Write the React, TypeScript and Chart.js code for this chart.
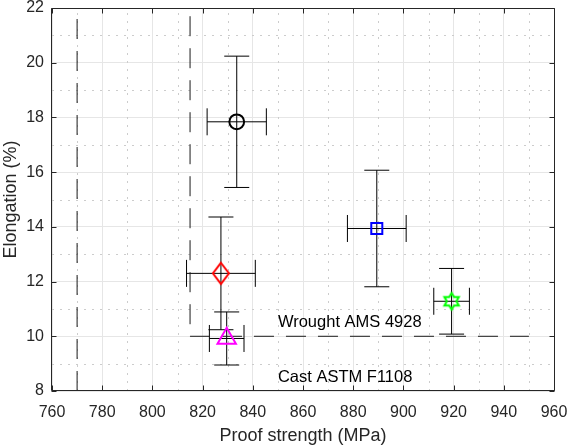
import React, { useEffect, useRef } from 'react';
import { Chart, registerables } from 'chart.js';

Chart.register(...registerables);

// ---------------- data ----------------
const proofStrength = [833.6, 827.3, 829.6, 889.4, 919.2];
const elongation = [17.84, 12.3, 9.92, 13.94, 11.28];
const proofStrengthErr = [11.8, 13.7, 6.9, 11.7, 7.1];
const elongationErr = [2.4, 2.06, 0.97, 2.13, 1.2];
const markerShapes = ['circle', 'diamond', 'triangle', 'square', 'hexagram'];
const markerColors = ['#000000', '#ff0000', '#ff00ff', '#0000ff', '#00ff00'];

const castLimitX = [770, 770];
const castLimitY = [8, 22];
const wroughtLimitX = [815, 815, 950];
const wroughtLimitY = [21.7, 10, 10];

const annotationTexts = ['Wrought AMS 4928', 'Cast ASTM F1108'];
const annotationX = [850, 850];
const annotationY = [10.5, 8.5];

const xMin = 760;
const xMax = 960;
const xStep = 20;
const yMin = 8;
const yMax = 22;
const yStep = 2;
const xMinorTicks = [770, 790, 810, 830, 850, 870, 890, 910, 930, 950];
const yMinorTicks = [9, 11, 13, 15, 17, 19, 21];
const xMajorTicks = [760, 780, 800, 820, 840, 860, 880, 900, 920, 940, 960];
const yMajorTicks = [8, 10, 12, 14, 16, 18, 20, 22];

const xTitle = 'Proof strength (MPa)';
const yTitle = 'Elongation (%)';

const FONT = '"Liberation Sans", Arial, Helvetica, sans-serif';
const AXIS_COLOR = '#262626';

function makeMarker(shape: string, color: string): any {
  if (shape === 'circle') return 'circle';
  if (shape === 'square') return 'rect';
  if (shape === 'triangle') return 'triangle';
  const c = document.createElement('canvas');
  const ctx = c.getContext('2d') as CanvasRenderingContext2D;
  if (shape === 'diamond') {
    c.width = 24;
    c.height = 28;
    const cx = 12, cy = 14;
    ctx.strokeStyle = color;
    ctx.lineWidth = 2;
    ctx.beginPath();
    ctx.moveTo(cx, cy - 10.5);
    ctx.lineTo(cx + 8, cy);
    ctx.lineTo(cx, cy + 10.5);
    ctx.lineTo(cx - 8, cy);
    ctx.closePath();
    ctx.stroke();
  } else {
    c.width = 22;
    c.height = 22;
    const cx = 11, cy = 11;
    const R = 8.3;
    const r = R / Math.sqrt(3);
    ctx.strokeStyle = color;
    ctx.lineWidth = 2;
    ctx.beginPath();
    for (let k = 0; k < 12; k++) {
      const ang = -Math.PI / 2 + (k * Math.PI) / 6;
      const rad = k % 2 === 0 ? R : r;
      const px = cx + rad * Math.cos(ang);
      const py = cy + rad * Math.sin(ang);
      if (k === 0) ctx.moveTo(px, py);
      else ctx.lineTo(px, py);
    }
    ctx.closePath();
    ctx.stroke();
  }
  return c;
}

const markerRadius: Record<string, number> = {
  circle: 7.4,
  square: 7.8,
  triangle: 10.6,
  diamond: 10,
  hexagram: 9,
};

const axesPlugin = {
  id: 'matlabAxes',
  beforeDatasetsDraw(chart: any) {
    const { ctx, chartArea: a, scales } = chart;
    const xs = scales.x;
    const ys = scales.y;
    ctx.save();
    ctx.beginPath();
    ctx.rect(a.left, a.top, a.right - a.left, a.bottom - a.top);
    ctx.clip();
    // minor dotted grid
    ctx.strokeStyle = '#cccccc';
    ctx.lineWidth = 1;
    ctx.setLineDash([2, 6]);
    for (const v of xMinorTicks) {
      const px = Math.round(xs.getPixelForValue(v)) + 0.5;
      ctx.beginPath();
      ctx.moveTo(px, a.bottom);
      ctx.lineTo(px, a.top);
      ctx.stroke();
    }
    for (const v of yMinorTicks) {
      const py = Math.round(ys.getPixelForValue(v)) + 0.5;
      ctx.beginPath();
      ctx.moveTo(a.left, py);
      ctx.lineTo(a.right, py);
      ctx.stroke();
    }
    ctx.setLineDash([]);
    // error bars
    ctx.strokeStyle = '#000000';
    ctx.lineWidth = 1;
    const capX = 13.5;
    const capY = 12.5;
    for (let i = 0; i < proofStrength.length; i++) {
      const cx = xs.getPixelForValue(proofStrength[i]);
      const cy = ys.getPixelForValue(elongation[i]);
      const x0 = xs.getPixelForValue(proofStrength[i] - proofStrengthErr[i]);
      const x1 = xs.getPixelForValue(proofStrength[i] + proofStrengthErr[i]);
      const y0 = ys.getPixelForValue(elongation[i] - elongationErr[i]);
      const y1 = ys.getPixelForValue(elongation[i] + elongationErr[i]);
      ctx.beginPath();
      ctx.moveTo(x0, cy);
      ctx.lineTo(x1, cy);
      ctx.moveTo(x0, cy - capX);
      ctx.lineTo(x0, cy + capX);
      ctx.moveTo(x1, cy - capX);
      ctx.lineTo(x1, cy + capX);
      ctx.moveTo(cx, y0);
      ctx.lineTo(cx, y1);
      ctx.moveTo(cx - capY, y0);
      ctx.lineTo(cx + capY, y0);
      ctx.moveTo(cx - capY, y1);
      ctx.lineTo(cx + capY, y1);
      ctx.stroke();
    }
    ctx.restore();
  },
  afterDatasetsDraw(chart: any) {
    const { ctx, scales } = chart;
    ctx.save();
    ctx.fillStyle = '#000000';
    ctx.font = `16.5px ${FONT}`;
    ctx.textAlign = 'left';
    ctx.textBaseline = 'middle';
    for (let i = 0; i < annotationTexts.length; i++) {
      ctx.fillText(
        annotationTexts[i],
        scales.x.getPixelForValue(annotationX[i]),
        scales.y.getPixelForValue(annotationY[i])
      );
    }
    ctx.restore();
  },
  afterDraw(chart: any) {
    const { ctx, chartArea: a, scales } = chart;
    const L = Math.round(a.left) - 0.5;
    const R = Math.round(a.right) + 0.5;
    const T = Math.round(a.top) + 0.5;
    const B = Math.round(a.bottom) - 0.5;
    ctx.save();
    ctx.strokeStyle = AXIS_COLOR;
    ctx.lineWidth = 1;
    ctx.beginPath();
    ctx.rect(L, T, R - L, B - T);
    ctx.stroke();
    const tl = 5;
    ctx.beginPath();
    for (const v of xMajorTicks) {
      const px = Math.round(scales.x.getPixelForValue(v)) + 0.5;
      ctx.moveTo(px, B);
      ctx.lineTo(px, B - tl);
      ctx.moveTo(px, T);
      ctx.lineTo(px, T + tl);
    }
    for (const v of yMajorTicks) {
      const py = Math.round(scales.y.getPixelForValue(v)) + 0.5;
      ctx.moveTo(L, py);
      ctx.lineTo(L + tl, py);
      ctx.moveTo(R, py);
      ctx.lineTo(R - tl, py);
    }
    ctx.stroke();
    ctx.restore();
  },
};

function noOverflow(s: any) {
  s.paddingTop = 0;
  s.paddingBottom = 0;
  s.paddingLeft = 0;
  s.paddingRight = 0;
}

export default function App() {
  const ref = useRef<HTMLCanvasElement | null>(null);

  useEffect(() => {
    if (!ref.current) return;
    const points = proofStrength.map((v, i) => ({ x: v, y: elongation[i] }));
    const styles = markerShapes.map((s, i) => makeMarker(s, markerColors[i]));
    const radii = markerShapes.map((s) => markerRadius[s]);
    const widths = markerShapes.map(() => 2);

    const chart = new Chart(ref.current, {
      type: 'scatter',
      data: {
        datasets: [
          {
            label: 'Specimens',
            data: points,
            pointStyle: styles as any,
            pointRadius: radii,
            pointHoverRadius: radii,
            pointBorderColor: markerColors,
            pointBackgroundColor: 'rgba(0,0,0,0)',
            pointBorderWidth: widths,
            showLine: false,
          } as any,
          {
            label: 'Wrought AMS 4928',
            data: wroughtLimitX.map((v, i) => ({ x: v, y: wroughtLimitY[i] })),
            showLine: true,
            borderColor: '#1a1a1a',
            borderWidth: 1,
            borderDash: [20, 12],
            pointRadius: 0,
            fill: false,
          } as any,
          {
            label: 'Cast ASTM F1108',
            data: castLimitX.map((v, i) => ({ x: v, y: castLimitY[i] })),
            showLine: true,
            borderColor: '#1a1a1a',
            borderWidth: 1,
            borderDash: [20, 12],
            pointRadius: 0,
            fill: false,
          } as any,
        ],
      },
      options: {
        responsive: false,
        animation: false,
        events: [],
        layout: { autoPadding: false, padding: { top: 8, right: 15, left: 0, bottom: 0 } },
        plugins: {
          legend: { display: false },
          tooltip: { enabled: false },
        },
        scales: {
          x: {
            type: 'linear',
            min: xMin,
            max: xMax,
            afterFit: (s: any) => {
              s.height = 55;
              noOverflow(s);
            },
            ticks: {
              stepSize: xStep,
              color: AXIS_COLOR,
              font: { family: FONT, size: 16 },
              padding: 12,
              maxRotation: 0,
            },
            grid: { color: '#e6e6e6', lineWidth: 1, drawTicks: false },
            border: { display: false },
            title: {
              display: true,
              text: xTitle,
              color: AXIS_COLOR,
              font: { family: FONT, size: 18 },
              padding: { top: 0, bottom: -1 },
            },
          },
          y: {
            type: 'linear',
            min: yMin,
            max: yMax,
            afterFit: (s: any) => {
              s.width = 52;
              noOverflow(s);
            },
            ticks: {
              stepSize: yStep,
              color: AXIS_COLOR,
              font: { family: FONT, size: 16 },
              padding: 8,
            },
            grid: { color: '#e6e6e6', lineWidth: 1, drawTicks: false },
            border: { display: false },
            title: {
              display: true,
              text: yTitle,
              color: AXIS_COLOR,
              font: { family: FONT, size: 18 },
              padding: 0,
            },
          },
        },
      },
      plugins: [axesPlugin],
    });
    return () => chart.destroy();
  }, []);

  return (
    <div style={{ position: 'fixed', left: 0, top: 0, width: 569, height: 446, background: '#fff' }}>
      <canvas ref={ref} width={569} height={446} />
    </div>
  );
}
